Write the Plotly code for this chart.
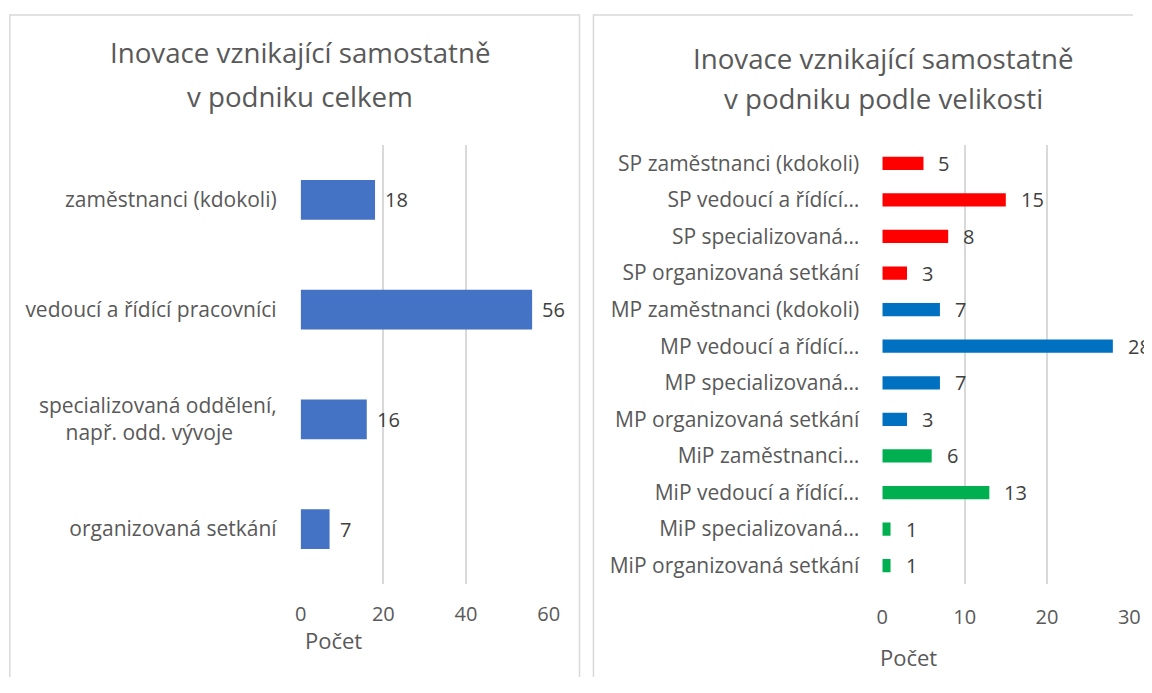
import plotly.graph_objects as go

# ---------------- data ----------------
left_categories = [
    "zaměstnanci (kdokoli)",
    "vedoucí a řídící pracovníci",
    "specializovaná oddělení,<br>např. odd. vývoje" + "\u00a0" * 8,
    "organizovaná setkání",
]
left_values = [18, 56, 16, 7]
left_ticks = [0, 20, 40, 60]

right_categories = [
    "SP zaměstnanci (kdokoli)",
    "SP vedoucí a řídící…",
    "SP specializovaná…",
    "SP organizovaná setkání",
    "MP zaměstnanci (kdokoli)",
    "MP vedoucí a řídící…",
    "MP specializovaná…",
    "MP organizovaná setkání",
    "MiP zaměstnanci…",
    "MiP vedoucí a řídící…",
    "MiP specializovaná…",
    "MiP organizovaná setkání",
]
right_values = [5, 15, 8, 3, 7, 28, 7, 3, 6, 13, 1, 1]
right_groups = ["SP"] * 4 + ["MP"] * 4 + ["MiP"] * 4
right_ticks = [0, 10, 20, 30]

left_title_lines = ["Inovace vznikající samostatně", "v podniku celkem"]
right_title_lines = ["Inovace vznikající samostatně", "v podniku podle velikosti"]
axis_title = "Počet"

# ---------------- styles ----------------
PAGE_MARGIN = 8            # default body margin of the html page
W = 1152 - 2 * PAGE_MARGIN
H = 693 - 2 * PAGE_MARGIN - 8
# observed horizontal mapping of the photographed page: screen = SX * fig_px + OX
SX, OX = 0.989, 12.2
FONT = "Open Sans"
TXT = "#595959"
VAL = "#404040"
GRID = "#D9D9D9"
LEFT_COLOR = "#4472C4"
group_colors = {"SP": "#FF0000", "MP": "#0070C0", "MiP": "#00B050"}

# plot-area placement (screen pixels)
L_X0, L_X1 = 300, 549
R_X0, R_X1 = 884, 1132
R_RANGE = [0, 30]


def px_x(p):
    return ((p - OX) / SX) / W


def px_y(p):
    return 1 - (p - PAGE_MARGIN) / H


fig = go.Figure()

fig.add_trace(go.Bar(
    x=left_values, y=left_categories, orientation="h",
    marker=dict(color=LEFT_COLOR, line=dict(width=0)), width=0.36,
    xaxis="x", yaxis="y", hoverinfo="x+y", showlegend=False,
))
fig.add_trace(go.Bar(
    x=right_values, y=right_categories, orientation="h",
    marker=dict(color=[group_colors[g] for g in right_groups], line=dict(width=0)),
    width=0.36, xaxis="x2", yaxis="y2", hoverinfo="x+y", showlegend=False,
))

annotations = []
for c, v in zip(left_categories, left_values):
    annotations.append(dict(x=v, y=c, xref="x", yref="y", text=str(v),
                            showarrow=False, xanchor="left", xshift=8,
                            font=dict(family=FONT, size=20, color=VAL)))
for c, v in zip(right_categories, right_values):
    annotations.append(dict(x=v, y=c, xref="x2", yref="y2", text=str(v),
                            showarrow=False, xanchor="left", xshift=13,
                            font=dict(family=FONT, size=20, color=VAL)))

# titles (one annotation per line to match the wide line spacing)
for line, ypix in zip(left_title_lines, [52, 96]):
    annotations.append(dict(x=px_x(299), y=px_y(ypix), xref="paper", yref="paper",
                            text=line, showarrow=False, xanchor="center",
                            yanchor="middle", font=dict(family=FONT, size=27.7, color=TXT)))
for line, ypix in zip(right_title_lines, [58, 98]):
    annotations.append(dict(x=px_x(885), y=px_y(ypix), xref="paper", yref="paper",
                            text=line, showarrow=False, xanchor="center",
                            yanchor="middle", font=dict(family=FONT, size=27.7, color=TXT)))
# axis titles
annotations.append(dict(x=px_x(333), y=px_y(640), xref="paper", yref="paper",
                        text=axis_title, showarrow=False, xanchor="center",
                        yanchor="middle", font=dict(family=FONT, size=22, color=TXT)))
annotations.append(dict(x=px_x(910), y=px_y(657), xref="paper", yref="paper",
                        text=axis_title, showarrow=False, xanchor="center",
                        yanchor="middle", font=dict(family=FONT, size=22, color=TXT)))


def open_frame(x0, y0, x1):
    """Panel frame: left, top (and right if inside the page) edges, in paper units."""
    pts = [(px_x(x0), 0.0), (px_x(x0), px_y(y0))]
    if x1 is None:
        pts.append((1.0, px_y(y0)))
    else:
        pts += [(px_x(x1), px_y(y0)), (px_x(x1), 0.0)]
    return "M " + " L ".join(f"{a:.5f},{b:.5f}" for a, b in pts)


shapes = [
    dict(type="path", xref="paper", yref="paper", path=open_frame(8, 15, 580),
         line=dict(color="#D9D9D9", width=1.5), layer="below"),
    dict(type="path", xref="paper", yref="paper", path=open_frame(594, 15, None),
         line=dict(color="#D9D9D9", width=1.5), layer="below"),
]

y_dom = [px_y(584), px_y(145)]

fig.update_layout(
    width=W, height=H,
    margin=dict(l=0, r=0, t=0, b=0),
    paper_bgcolor="white", plot_bgcolor="white",
    font=dict(family=FONT, color=TXT),
    annotations=annotations, shapes=shapes,
    xaxis=dict(domain=[px_x(L_X0), px_x(L_X1)], range=[0, 60], tickvals=left_ticks,
               showgrid=True, gridcolor=GRID, gridwidth=1.5, zeroline=False,
               showline=False, ticks="", ticklabelstandoff=16,
               tickfont=dict(family=FONT, size=20, color=TXT), anchor="y",
               fixedrange=True),
    yaxis=dict(domain=y_dom, autorange="reversed", type="category",
               showgrid=False, zeroline=False, showline=False, ticks="",
               ticklabelstandoff=23,
               tickfont=dict(family=FONT, size=21, color=TXT), anchor="x"),
    xaxis2=dict(domain=[px_x(R_X0), px_x(R_X1)], range=R_RANGE, tickvals=right_ticks,
                showgrid=True, gridcolor=GRID, gridwidth=1.5, zeroline=False,
                showline=False, ticks="", ticklabelstandoff=19,
                tickfont=dict(family=FONT, size=20, color=TXT), anchor="y2"),
    yaxis2=dict(domain=y_dom, autorange="reversed", type="category",
                showgrid=False, zeroline=False, showline=False, ticks="",
                ticklabelstandoff=22,
                tickfont=dict(family=FONT, size=21, color=TXT), anchor="x2"),
)

fig.write_html("out.html")
